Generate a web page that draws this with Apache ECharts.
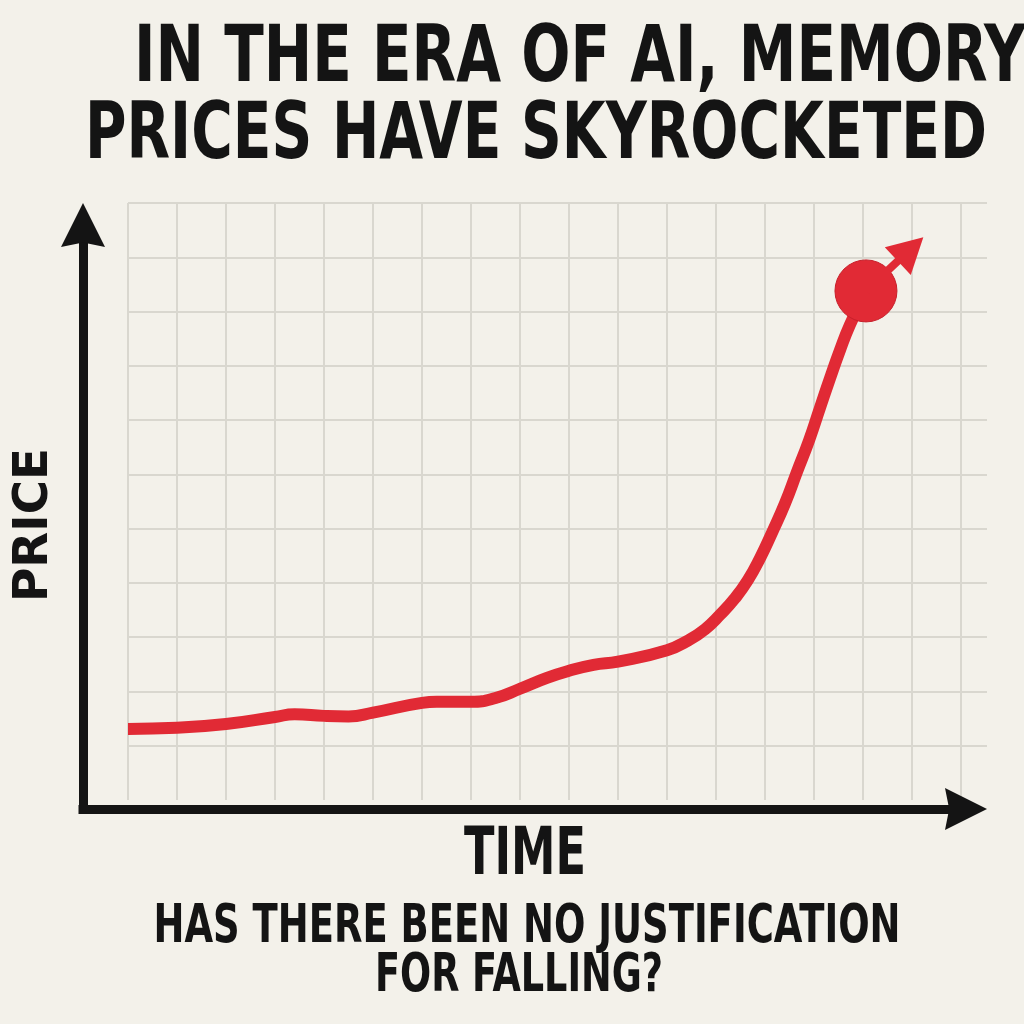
<!DOCTYPE html>
<html>
<head>
<meta charset="utf-8">
<script src="https://cdn.jsdelivr.net/npm/echarts@6/dist/echarts.min.js"></script>
<style>
html,body{margin:0;padding:0;background:#f3f1ea;}
#chart{width:1024px;height:1024px;}
</style>
</head>
<body>
<div id="chart"></div>
<script>
// ---- data ----
const titleLines = ['IN THE ERA OF AI, MEMORY', 'PRICES HAVE SKYROCKETED'];
const xAxisName = 'TIME';
const yAxisName = 'PRICE';
const footLines = ['HAS THERE BEEN NO JUSTIFICATION', 'FOR FALLING?'];

const timeSteps = [0, 1.0, 2.0, 3.0, 3.4, 4.0, 4.5, 5.0, 6.0, 6.3, 7.0, 7.5, 8.0, 8.55, 9.0, 9.5, 10.0, 11.0, 11.45, 11.78, 12.08, 12.39, 12.65, 12.90, 13.14, 13.41, 13.65, 13.90, 14.12, 14.33, 14.53, 14.73, 15.06];
const priceValues = [1.31, 1.33, 1.40, 1.53, 1.58, 1.55, 1.54, 1.61, 1.79, 1.81, 1.81, 1.88, 2.05, 2.25, 2.38, 2.49, 2.55, 2.76, 2.95, 3.15, 3.41, 3.72, 4.05, 4.46, 4.92, 5.47, 6.04, 6.63, 7.22, 7.78, 8.29, 8.75, 9.38];
const peakPoint = [15.06, 9.38];
const arrowEnd = [15.97, 10.15];
const timeMax = 17.53;
const priceMax = 11;

// ---- style ----
const RED = '#e12a35';
const INK = '#141414';
const BG = '#f3f1ea';
const GRIDC = '#d9d7cf';
const FONT = "'Liberation Sans Narrow', 'DejaVu Sans Condensed', 'Liberation Sans', sans-serif";
const AXIS_ARROW = 'path://M50,0 L100,100 L50,90 L0,100 Z';
const TRI_ARROW = 'path://M50,0 L100,100 L0,100 Z';

const mctx = document.createElement('canvas').getContext('2d');
function textW(str, size) {
  mctx.font = 'bold ' + size + 'px ' + FONT;
  return mctx.measureText(str).width;
}
function textEl(str, x, y, capH, scale, align, rotation) {
  const size = capH / 0.72;
  return {
    type: 'text', x: x, y: y, scaleX: scale, rotation: rotation || 0, z: 100,
    style: {
      text: str, fill: INK, fontSize: size, fontWeight: 'bold', fontFamily: FONT,
      align: align, textAlign: align, verticalAlign: 'middle', textVerticalAlign: 'middle'
    }
  };
}
function fitScale(str, capH, targetW) { return targetW / textW(str, capH / 0.72); }

const titleCap = 57;
const graphics = [
  textEl(titleLines[0], 134, 60, titleCap, fitScale(titleLines[0], titleCap, 892), 'left'),
  textEl(titleLines[1], 85, 137, titleCap, fitScale(titleLines[1], titleCap, 902), 'left'),
  textEl(xAxisName, 525, 857, 47, fitScale(xAxisName, 47, 122), 'center'),
  textEl(footLines[0], 527, 928, 39, fitScale(footLines[0], 39, 747), 'center'),
  textEl(footLines[1], 519, 977, 39, fitScale(footLines[1], 39, 288), 'center'),
  textEl(yAxisName, 35, 525, 34, fitScale(yAxisName, 34, 154), 'center', Math.PI / 2)
];

const chart = echarts.init(document.getElementById('chart'), null, {renderer: 'canvas'});
const hidden = {show: false};
chart.setOption({
  backgroundColor: BG,
  animation: false,
  grid: [
    {left: 128, right: 1024 - 987, top: 203, bottom: 1024 - 800},
    {left: 83, right: 1024 - 966, top: 225, bottom: 1024 - 809}
  ],
  xAxis: [
    {type: 'value', gridIndex: 0, min: 0, max: timeMax, interval: 1,
     axisLine: hidden, axisTick: hidden, axisLabel: hidden,
     splitLine: {show: true, showMaxLine: false, lineStyle: {color: GRIDC, width: 2}}},
    {type: 'value', gridIndex: 1, min: 0, max: 1,
     axisLine: {show: true, symbol: ['none', AXIS_ARROW], symbolSize: [43, 42],
                lineStyle: {color: INK, width: 9, cap: 'square'}},
     axisTick: hidden, axisLabel: hidden, splitLine: hidden}
  ],
  yAxis: [
    {type: 'value', gridIndex: 0, min: 0, max: priceMax, interval: 1,
     axisLine: hidden, axisTick: hidden, axisLabel: hidden,
     splitLine: {show: true, showMinLine: false, lineStyle: {color: GRIDC, width: 2}}},
    {type: 'value', gridIndex: 1, min: 0, max: 1,
     axisLine: {show: true, onZero: false, symbol: ['none', AXIS_ARROW], symbolSize: [44, 44],
                lineStyle: {color: INK, width: 9, cap: 'square'}},
     axisTick: hidden, axisLabel: hidden, splitLine: hidden}
  ],
  series: [
    {
      type: 'line', xAxisIndex: 0, yAxisIndex: 0, z: 3,
      data: timeSteps.map((t, i) => [t, priceValues[i]]),
      smooth: 0.5, symbol: 'none',
      lineStyle: {color: RED, width: 12, cap: 'butt'}
    },
    {
      type: 'scatter', xAxisIndex: 0, yAxisIndex: 0, z: 4,
      data: [peakPoint], symbol: 'circle', symbolSize: 62,
      itemStyle: {color: RED, borderColor: '#c8202b', borderWidth: 1, opacity: 1},
      markLine: {
        silent: true, symbol: ['none', TRI_ARROW], symbolSize: [38, 35],
        lineStyle: {color: RED, width: 8, type: 'solid'},
        label: {show: false},
        emphasis: {disabled: true},
        data: [[{coord: peakPoint}, {coord: arrowEnd}]]
      }
    }
  ],
  graphic: graphics
});
</script>
</body>
</html>
